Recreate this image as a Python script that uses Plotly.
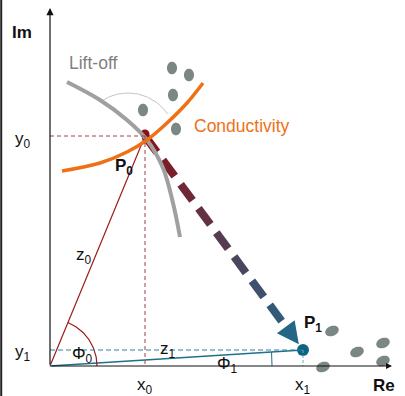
import numpy as np
import plotly.graph_objects as go

# ---------------- data (diagram coordinates, origin at axes crossing) ----------------
point_names = ["P<sub>0</sub>", "P<sub>1</sub>"]
point_x = [95, 253]
point_y = [230, 16]

liftoff_x = [17, 50, 77, 97, 113, 123, 130]
liftoff_y = [284, 266, 246, 226, 198, 163, 129]

conduct_x = [12, 50, 77, 97, 117, 137, 153]
conduct_y = [195, 203, 214, 226, 243, 263, 283]

dots_top_x = [122, 139, 123, 93, 126]
dots_top_y = [298, 291, 271, 256, 237]
dots_bot_x = [282, 307, 333, 333, 273]
dots_bot_y = [35, 14, 23, 5, -1]

ref_arc_center = [78, 225]
ref_arc_radius = 48
ref_arc_angles = [125, 34]

phi0_radius = 47
phi1_radius = 222

X_RANGE = [-50, 355]
Y_RANGE = [-30, 366]

# ---------------- colours ----------------
C_RED = "#9c1c1c"
C_TEAL = "#1f6f8d"
C_ORANGE = "#ef7116"
C_GRAY = "#a0a0a0"
C_DOT = "#7b8784"

fig = go.Figure()
shapes = []
annotations = []

P0 = np.array([point_x[0], point_y[0]], float)
P1 = np.array([point_x[1], point_y[1]], float)

# reference dashed lines
shapes += [
    dict(type="line", x0=0, y0=P0[1], x1=P0[0], y1=P0[1], line=dict(color="#a04048", width=1, dash="4px,3px")),
    dict(type="line", x0=P0[0], y0=P0[1], x1=P0[0], y1=0, line=dict(color="#a04048", width=1, dash="4px,3px")),
    dict(type="line", x0=0, y0=P1[1], x1=P1[0], y1=P1[1], line=dict(color="#2f7f9c", width=1, dash="5px,3px")),
    dict(type="line", x0=P1[0], y0=P1[1], x1=P1[0], y1=0, line=dict(color="#6aaabd", width=1, dash="3px,2px")),
]

# z lines
fig.add_trace(go.Scatter(x=[0, P0[0]], y=[0, P0[1]], mode="lines",
                         line=dict(color=C_RED, width=1.2), hoverinfo="skip"))
fig.add_trace(go.Scatter(x=[0, P1[0]], y=[0, P1[1]], mode="lines",
                         line=dict(color=C_TEAL, width=1.5), hoverinfo="skip"))

# angle arcs
a0 = np.degrees(np.arctan2(P0[1], P0[0]))
t = np.radians(np.linspace(0, a0, 60))
fig.add_trace(go.Scatter(x=phi0_radius*np.cos(t), y=phi0_radius*np.sin(t), mode="lines",
                         line=dict(color=C_RED, width=1.2), hoverinfo="skip"))
a1 = np.degrees(np.arctan2(P1[1], P1[0]))
t = np.radians(np.linspace(0, a1, 30))
fig.add_trace(go.Scatter(x=phi1_radius*np.cos(t), y=phi1_radius*np.sin(t), mode="lines",
                         line=dict(color=C_TEAL, width=1), hoverinfo="skip"))

# thin gray reference arc
t = np.radians(np.linspace(ref_arc_angles[0], ref_arc_angles[1], 60))
fig.add_trace(go.Scatter(x=ref_arc_center[0] + ref_arc_radius*np.cos(t),
                         y=ref_arc_center[1] + ref_arc_radius*np.sin(t), mode="lines",
                         line=dict(color="#c4c4c4", width=1), hoverinfo="skip"))

# gradient dashed arrow P0 -> P1
def mix(c1, c2, f):
    a = np.array([int(c1[i:i+2], 16) for i in (1, 3, 5)])
    b = np.array([int(c2[i:i+2], 16) for i in (1, 3, 5)])
    c = (a + (b - a) * f).round().astype(int)
    return "rgb(%d,%d,%d)" % tuple(c)

v = P1 - P0
L = np.linalg.norm(v)
u = v / L
nrm = np.array([-u[1], u[0]])
tip = P0 + u * (L - 7)
head_len = 22
shaft_end = L - 7 - head_len
dash, gap = 20, 10
s = 0
C_START, C_END = "#8a1018", "#1f6a8c"
while s < shaft_end:
    e = min(s + dash, shaft_end)
    a, b = P0 + u * s, P0 + u * e
    f = (s + e) / 2 / L
    fig.add_trace(go.Scatter(x=[a[0], b[0]], y=[a[1], b[1]], mode="lines",
                             line=dict(color=mix(C_START, C_END, f), width=8), hoverinfo="skip"))
    s += dash + gap
base = tip - u * head_len
hw = 11
tri = np.array([tip, base + nrm * hw, base - nrm * hw, tip])
fig.add_trace(go.Scatter(x=tri[:, 0], y=tri[:, 1], mode="lines", fill="toself",
                         fillcolor=mix(C_START, C_END, 0.95), line=dict(width=0),
                         hoverinfo="skip"))
fig.add_trace(go.Scatter(x=[P0[0]], y=[P0[1] + 2], mode="markers",
                         marker=dict(size=9, color=C_START), hoverinfo="skip"))

# curves
fig.add_trace(go.Scatter(x=liftoff_x, y=liftoff_y, mode="lines",
                         line=dict(color=C_GRAY, width=4, shape="spline"), hoverinfo="skip"))
fig.add_trace(go.Scatter(x=conduct_x, y=conduct_y, mode="lines",
                         line=dict(color=C_ORANGE, width=3.5, shape="spline"), hoverinfo="skip"))

# P1 point
fig.add_trace(go.Scatter(x=[P1[0]], y=[P1[1]], mode="markers",
                         marker=dict(size=12, color="#0b6484"), hoverinfo="skip"))

# gray ellipses
def ellipse_path(cx, cy, rx, ry, rot):
    th = np.linspace(0, 2*np.pi, 40)
    r = np.radians(rot)
    xs = cx + rx*np.cos(th)*np.cos(r) - ry*np.sin(th)*np.sin(r)
    ys = cy + rx*np.cos(th)*np.sin(r) + ry*np.sin(th)*np.cos(r)
    return "M " + " L ".join(f"{x:.2f},{y:.2f}" for x, y in zip(xs, ys)) + " Z"

for cx, cy in zip(dots_top_x, dots_top_y):
    shapes.append(dict(type="path", path=ellipse_path(cx, cy, 5, 6.3, 0),
                       fillcolor=C_DOT, line=dict(width=0)))
for cx, cy in zip(dots_bot_x, dots_bot_y):
    shapes.append(dict(type="path", path=ellipse_path(cx, cy, 7, 5, 22),
                       fillcolor=C_DOT, line=dict(width=0)))

# axes with arrows
annotations.append(dict(x=0, y=358, ax=0, ay=0, xref="x", yref="y", axref="x", ayref="y",
                        showarrow=True, arrowhead=2, arrowsize=1.2, arrowwidth=1.2,
                        arrowcolor="#111", text=""))
annotations.append(dict(x=342, y=0, ax=0, ay=0, xref="x", yref="y", axref="x", ayref="y",
                        showarrow=True, arrowhead=2, arrowsize=1, arrowwidth=1.2,
                        arrowcolor="#111", text=""))

# left border
shapes.append(dict(type="line", xref="paper", yref="paper", x0=0.003, x1=0.003, y0=0, y1=1,
                   line=dict(color="#222", width=2)))

F = "Liberation Sans, Arial, sans-serif"
def label(x, y, text, color="#111", size=17, bold=False):
    annotations.append(dict(x=x, y=y, xref="x", yref="y", showarrow=False,
                            text=("<b>%s</b>" % text) if bold else text,
                            font=dict(family=F, size=size, color=color)))

label(-28, 334, "Im", bold=True)
label(334, -19, "Re", bold=True)
label(-27, 226, "y<sub>0</sub>")
label(-27, 13, "y<sub>1</sub>")
label(P0[0], -20, "x<sub>0</sub>")
label(P1[0], -20, "x<sub>1</sub>")
label(34, 110, "z<sub>0</sub>")
label(118, 16, "z<sub>1</sub>")
label(32, 11, "Φ<sub>0</sub>")
label(177, 1, "Φ<sub>1</sub>")
label(74, 199, point_names[0], bold=True)
label(263, 42, point_names[1], bold=True)
label(43, 303, "Lift-off", color="#7f7f7f", size=17.5)
label(192, 240, "Conductivity", color=C_ORANGE, size=17.5)

fig.update_layout(
    width=405, height=396, margin=dict(l=0, r=0, t=0, b=0),
    paper_bgcolor="white", plot_bgcolor="white", showlegend=False,
    xaxis=dict(range=X_RANGE, visible=False, fixedrange=True),
    yaxis=dict(range=Y_RANGE, visible=False, fixedrange=True),
    shapes=shapes, annotations=annotations,
)
fig.write_html("out.html", config={"displayModeBar": False},
               post_script="document.body.style.margin='0px';document.body.style.overflow='hidden';")
